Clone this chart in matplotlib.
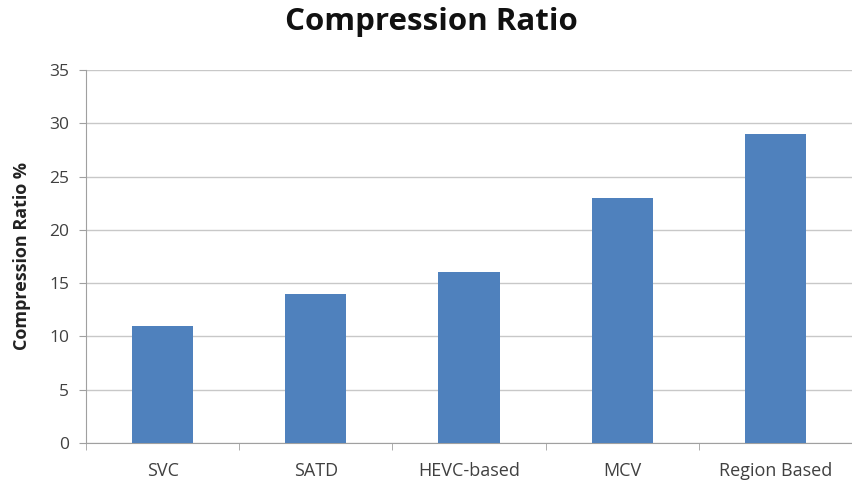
import matplotlib
matplotlib.use("Agg")
import matplotlib.pyplot as plt
import numpy as np

categories = ["SVC", "SATD", "HEVC-based", "MCV", "Region Based"]
values = [11, 14, 16, 23, 29]
yticks = [0, 5, 10, 15, 20, 25, 30, 35]

plt.rcParams['font.family'] = ['Open Sans', 'DejaVu Sans']

W, H = 852, 487
fig = plt.figure(figsize=(W / 100, H / 100), dpi=100)
left, right, top, bottom = 86, 852, 70, 443
ax = fig.add_axes([left / W, 1 - bottom / H, (right - left) / W, (bottom - top) / H])

x = np.arange(len(categories))
ax.bar(x, values, width=0.40, color="#4F81BD", zorder=3)

ax.set_ylim(0, 35)
ax.set_yticks(yticks)
ax.set_xlim(-0.5, -0.5 + (right - left) / 155.3)
ax.set_xticks(x)
ax.set_xticklabels(categories, fontsize=13, color="#404040")
ax.tick_params(axis='x', length=0, pad=14)
ax.set_xticks(np.arange(-0.5, 4.6, 1.0), minor=True)
ax.tick_params(axis='x', which='minor', length=5, color="#A0A0A0")
ax.tick_params(axis='y', length=5, color="#A0A0A0", labelsize=12.5, labelcolor="#404040", pad=7)

ax.grid(axis='y', color="#C8C8C8", linewidth=1.0, zorder=0)
for s in ["top", "right"]:
    ax.spines[s].set_visible(False)
ax.spines["left"].set_color("#A0A0A0")
ax.spines["bottom"].set_color("#A0A0A0")

ax.set_ylabel("Compression Ratio %", fontsize=13, fontweight="bold", color="#222222", labelpad=13)
fig.text(431 / W, 1 - 22 / H, "Compression Ratio", ha="center", va="center",
         fontsize=22.5, fontweight="bold", color="#111111")

fig.savefig("out.png", dpi=100)
